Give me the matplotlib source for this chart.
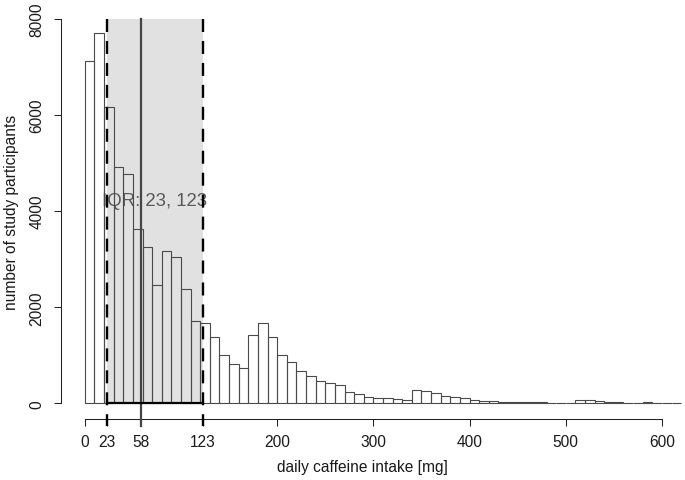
import numpy as np
import matplotlib
matplotlib.use("Agg")
import matplotlib.pyplot as plt

plt.rcParams["font.family"] = ["Liberation Sans", "DejaVu Sans"]

# ----- data (10 mg bins) -----
bin_width = 10
bin_starts = list(range(0, 620, bin_width))
counts = [
    7130, 7720, 6170, 4920, 4770, 3630, 3250, 2470, 3180, 3040,   # 0-99
    2390, 1705, 1665, 1390, 1010, 810, 730, 1420, 1665, 1385,     # 100-199
    1010, 870, 670, 570, 475, 425, 390, 245, 200, 125,            # 200-299
    115, 112, 95, 70, 278, 257, 209, 160, 139, 104,               # 300-399
    70, 56, 42, 35, 28, 28, 28, 21, 14, 14,                       # 400-499
    14, 63, 63, 49, 28, 28, 14, 14, 35, 14,                       # 500-599
    10, 10,                                                       # 600-619
]

q1, median, q3 = 23, 58, 123
x_ticks = [0, q1, median, q3, 200, 300, 400, 500, 600]
y_ticks = [0, 2000, 4000, 6000, 8000]
iqr_label = f"IQR: {q1}, {q3}"

# ----- figure -----
fig = plt.figure(figsize=(6.85, 4.81), dpi=100)
ax = fig.add_axes([61 / 685, 1 - 419.7 / 481, 644 / 685, 415 / 481])
ax.set_xlim(-24.8, 644.8)
ax.set_ylim(-320, 8320)

# shaded IQR band
ax.axvspan(q1, q3, ymin=320 / 8640, ymax=8320 / 8640, color="#e1e1e1", lw=0, zorder=1)

ax.text((q1 + q3) / 2, 4230, iqr_label, color="#5a5a5a", fontsize=13.4,
        ha="center", va="center", zorder=2)

# histogram bars (unfilled, like R's hist)
ax.bar(bin_starts, counts, width=bin_width, align="edge", fill=False,
       edgecolor="#4a4a4a", linewidth=0.8, zorder=3)

# quartile / median lines
for xq in (q1, q3):
    ax.plot([xq, xq], [8000, -480], color="black", lw=1.7,
            linestyle=(0, (5.5, 3.8)), clip_on=False, zorder=4)
ax.plot([median, median], [8000, -480], color="#444444", lw=1.6,
        clip_on=False, zorder=4)
ax.plot([q1, q3], [0, 0], color="black", lw=1.6, zorder=4)

# R-style axes
for side in ("top", "right"):
    ax.spines[side].set_visible(False)
ax.spines["left"].set_bounds(0, 8000)
ax.spines["bottom"].set_bounds(0, 600)
for side in ("left", "bottom"):
    ax.spines[side].set_linewidth(0.75)
    ax.spines[side].set_color("#222222")

ax.set_xticks(x_ticks)
ax.set_xticklabels([str(v) for v in x_ticks])
ax.set_yticks(y_ticks)
ax.set_yticklabels([str(v) for v in y_ticks], rotation=90, va="center")
ax.tick_params(direction="out", length=5, width=0.75, color="#222222",
               labelsize=11.2, labelcolor="#1a1a1a")
ax.tick_params(axis="x", pad=6)
ax.tick_params(axis="y", pad=7)

ax.set_xlabel("daily caffeine intake [mg]", fontsize=11.2, color="#1a1a1a")
ax.set_ylabel("number of study participants", fontsize=11.2, color="#1a1a1a")
ax.xaxis.set_label_coords((362 - 61) / 644, (419.7 - 460) / 415)
ax.yaxis.set_label_coords((19 - 61) / 644, 0.5)

fig.savefig("out.png", dpi=100)
